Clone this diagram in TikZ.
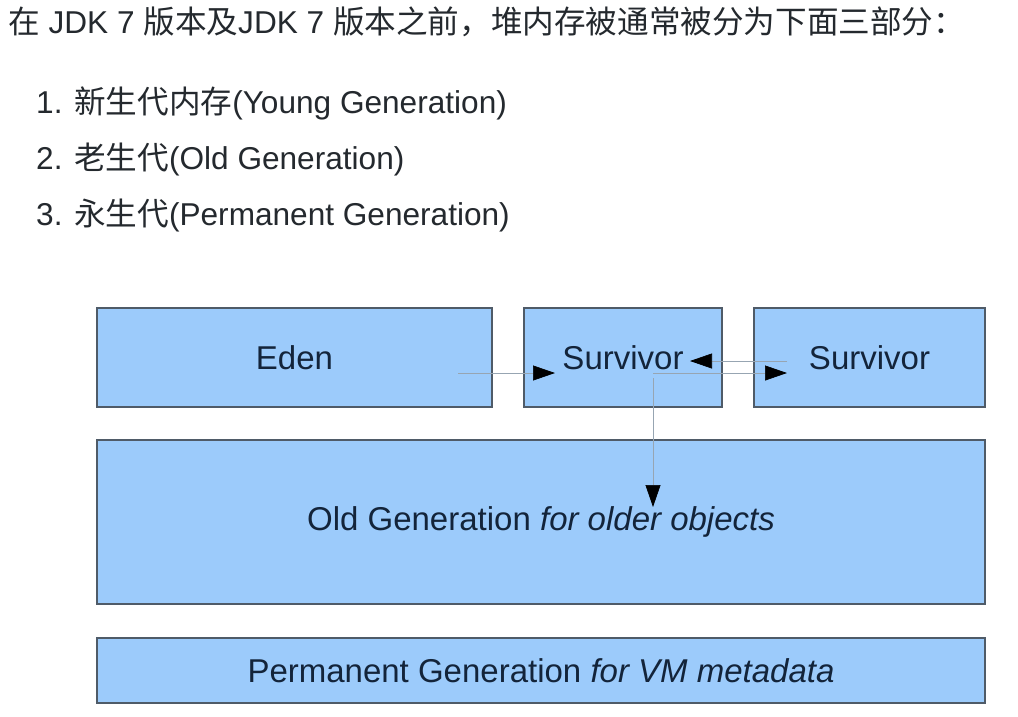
\documentclass[tikz,border=0pt]{standalone}
\usepackage{fontspec}
\setmainfont{Liberation Sans}
\newfontfamily\cjk{Noto Sans CJK SC}
\usetikzlibrary{arrows.meta,calc}
\definecolor{boxfill}{HTML}{9CCBFB}
\definecolor{boxline}{HTML}{4F5B68}
\definecolor{txt}{HTML}{24292E}
\definecolor{dtxt}{HTML}{13243A}
\definecolor{conncol}{HTML}{97A5B2}
\begin{document}
\begin{tikzpicture}[x=1pt,y=-1pt,
  box/.style={draw=boxline, line width=1.8pt, fill=boxfill, inner sep=0pt, text=dtxt, font=\fontsize{33}{40}\selectfont},
  hdr/.style={anchor=base west, inner sep=0pt, text=txt, font=\fontsize{31.6}{38}\selectfont},
  conn/.style={draw=conncol, line width=0.7pt, -{Triangle[length=22pt,width=15pt,color=black]}}]
\useasboundingbox (0,0) rectangle (1018,716);
\fill[white] (0,0) rectangle (1018,716);
\node[hdr] (title) at (8,33) {{\cjk 在} JDK 7 {\cjk 版本及}JDK 7 {\cjk 版本之前，堆内存被通常被分为下面三部分：}};
\node[hdr] (i1) at (36,113) {1. {\cjk 新生代内存}(Young Generation)};
\node[hdr] (i2) at (36,169) {2. {\cjk 老生代}(Old Generation)};
\node[hdr] (i3) at (36,225) {3. {\cjk 永生代}(Permanent Generation)};
\node[box, minimum width=395pt, minimum height=99pt] (eden) at (294.5,357.5) {Eden};
\node[box, minimum width=198pt, minimum height=99pt] (s1) at (623,357.5) {Survivor};
\node[box, minimum width=231pt, minimum height=99pt] (s2) at (869.5,357.5) {Survivor};
\node[box, minimum width=888pt, minimum height=164pt] (old) at (541,522) {Old Generation \textit{for older objects}};
\node[box, minimum width=888pt, minimum height=65pt] (perm) at (541,670.5) {Permanent Generation \textit{for VM metadata}};
\coordinate (c1s) at (458,373); \coordinate (c1e) at (555,373);
\coordinate (c2s) at (787,361); \coordinate (c2e) at (690,361);
\coordinate (c3s) at (653,373); \coordinate (c3e) at (787,373);
\coordinate (c4s) at (653,378); \coordinate (c4e) at (653,507);
\draw[conn] (c1s) -- (c1e);
\draw[conn] (c2s) -- (c2e);
\draw[conn] (c3s) -- (c3e);
\draw[conn] (c4s) -- (c4e);
\end{tikzpicture}
\end{document}
